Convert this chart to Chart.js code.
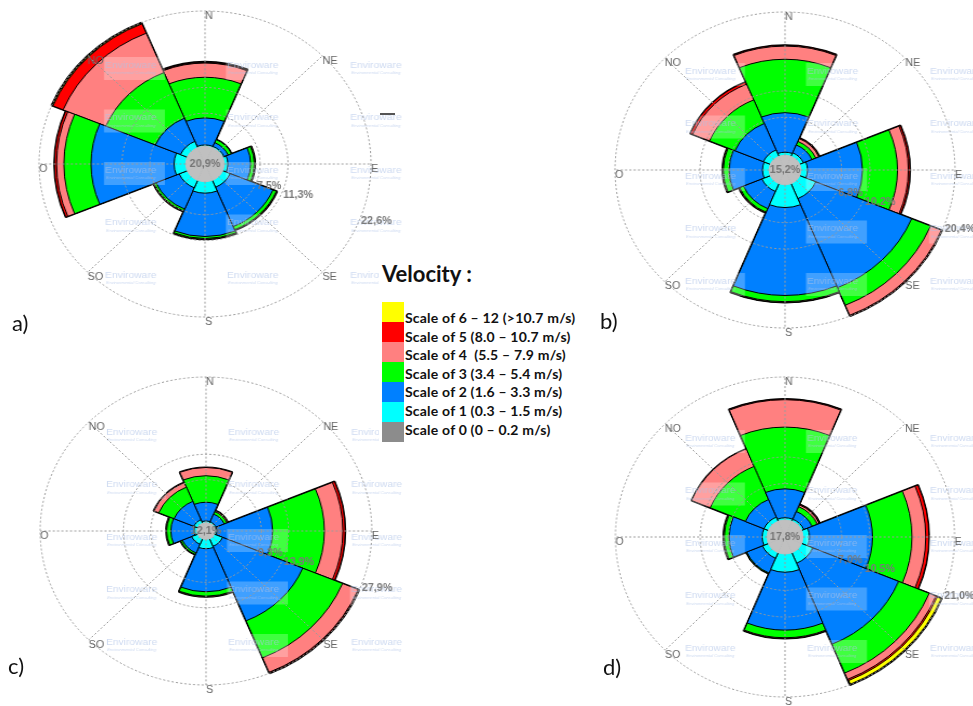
<!DOCTYPE html>
<html>
<head>
<meta charset="utf-8">
<script src="https://cdn.jsdelivr.net/npm/chart.js@4.4.1/dist/chart.umd.min.js"></script>
<style>
  html, body { margin: 0; padding: 0; background: #fff; }
  body { width: 973px; height: 706px; position: relative; overflow: hidden; }
  .rose { position: absolute; width: 380px; height: 380px; transform-origin: 190px 190px; }
  .tag { position: absolute; font: 22px Lato, sans-serif; line-height: 22px; color: #111; }
  #legend { position: absolute; left: 379px; top: 250px; width: 215px; height: 200px; background: #fff; z-index: 5; }
  #legend .ttl { position: absolute; left: 3px; top: 13px; font: bold 22px Lato, sans-serif; line-height: 22px; color: #111; }
  #legend .sw { position: absolute; left: 3px; width: 22px; height: 20px; }
  #legend .row { position: absolute; left: 26px; font: bold 14px Lato, sans-serif; line-height: 14px; letter-spacing: 0.2px; white-space: pre; color: #111; }
  .dash { position: absolute; left: 380px; top: 113px; width: 15px; height: 2px; background: #555; }
</style>
</head>
<body>
<div class="rose" id="boxA"><canvas id="roseA" width="380" height="380"></canvas></div>
<div class="rose" id="boxB"><canvas id="roseB" width="380" height="380"></canvas></div>
<div class="rose" id="boxC"><canvas id="roseC" width="380" height="380"></canvas></div>
<div class="rose" id="boxD"><canvas id="roseD" width="380" height="380"></canvas></div>
<div class="dash"></div>
<div class="tag" style="left:12px;top:312px">a)</div>
<div class="tag" style="left:600px;top:310px">b)</div>
<div class="tag" style="left:8px;top:655px">c)</div>
<div class="tag" style="left:603px;top:656px">d)</div>
<div id="legend"><div class="ttl">Velocity :</div></div>

<script>
const directions = ['N', 'NE', 'E', 'SE', 'S', 'SO', 'O', 'NO'];
const speedLabels = ['Scale of 6 – 12 (>10.7 m/s)', 'Scale of 5 (8.0 – 10.7 m/s)', 'Scale of 4  (5.5 – 7.9 m/s)',
  'Scale of 3 (3.4 – 5.4 m/s)', 'Scale of 2 (1.6 – 3.3 m/s)', 'Scale of 1 (0.3 – 1.5 m/s)', 'Scale of 0 (0 – 0.2 m/s)'];
const speedColors = ['#ffff00', '#ff0000', '#ff8080', '#00ff00', '#0080ff', '#00ffff', '#8c8c8c'];

// a)
const calmA = 20.9;
const ringsA = [7.5, 11.3, 22.6];
const scale1A = [0.2, 0.2, 0.5, 1.1, 1.7, 1.2, 1.6, 1.0];
const scale2A = [4.0, 0.6, 3.1, 6.3, 6.4, 3.4, 11.3, 3.7];
const scale3A = [6.0, 0.5, 0.5, 0.5, 0.3, 0.3, 3.7, 7.3];
const scale4A = [2.1, 0.0, 0.1, 0.1, 0.1, 0.1, 1.0, 6.3];
const scale5A = [0.1, 0.0, 0.0, 0.0, 0.0, 0.0, 0.3, 1.5];
const scale6A = [0.1, 0.0, 0.0, 0.0, 0.0, 0.0, 0.0, 0.2];

// b)
const calmB = 15.2;
const ringsB = [6.8, 10.2, 20.4];
const scale1B = [0.4, 0.5, 0.8, 2.1, 2.95, 1.1, 0.8, 0.9];
const scale2B = [5.1, 1.1, 6.6, 12.45, 11.35, 2.4, 4.0, 3.7];
const scale3B = [6.9, 0.5, 4.2, 2.45, 0.8, 0.5, 0.7, 3.3];
const scale4B = [1.7, 0.4, 1.3, 1.4, 0.1, 0.1, 0.1, 2.2];
const scale5B = [0.1, 0.1, 0.2, 0.1, 0.0, 0.0, 0.0, 0.3];
const scale6B = [0.0, 0.0, 0.0, 0.0, 0.0, 0.0, 0.0, 0.0];

// c)
const calmC = 12.1;
const ringsC = [9.3, 13.9, 27.9];
const scale1C = [0.3, 0.3, 0.3, 1.5, 1.7, 1.1, 0.5, 0.7];
const scale2C = [3.4, 1.5, 9.4, 14.6, 7.8, 1.7, 3.9, 3.6];
const scale3C = [4.8, 0.5, 8.7, 7.25, 0.8, 0.3, 0.7, 2.8];
const scale4C = [1.5, 0.2, 3.1, 2.85, 0.1, 0.05, 0.1, 0.9];
const scale5C = [0.0, 0.0, 0.4, 0.15, 0.0, 0.0, 0.0, 0.0];
const scale6C = [0.0, 0.0, 0.0, 0.05, 0.0, 0.0, 0.0, 0.0];

// d)
const calmD = 17.8;
const ringsD = [7.0, 10.5, 21.0];
const scale1D = [0.3, 0.3, 0.8, 1.5, 2.4, 0.8, 0.6, 0.6];
const scale2D = [3.8, 1.1, 7.8, 11.5, 7.6, 2.1, 4.1, 2.5];
const scale3D = [8.1, 0.7, 4.9, 4.1, 1.0, 0.1, 0.6, 4.7];
const scale4D = [3.6, 0.25, 1.7, 0.9, 0.1, 0.0, 0.1, 2.5];
const scale5D = [0.1, 0.1, 0.4, 0.2, 0.0, 0.0, 0.0, 0.0];
const scale6D = [0.0, 0.0, 0.0, 0.6, 0.0, 0.0, 0.0, 0.0];

// where each rose sits on the page (centre, radius in px, horizontal stretch)
const places = {
  A: { cx: 205, cy: 163.5, R: 153, sx: 1.085 },
  B: { cx: 785, cy: 169.5, R: 158, sx: 1.076 },
  C: { cx: 206, cy: 530.5, R: 154, sx: 1.077 },
  D: { cx: 785, cy: 537, R: 160, sx: 1.06 }
};

const fmt = v => v.toFixed(1).replace('.', ',') + '%';

function roseDecor(calm, rings, sx) {
  return {
    id: 'roseDecor',
    afterDatasetsDraw(chart) {
      // Enviroware watermark grid
      const s = chart.scales.r;
      const ctx = chart.ctx;
      ctx.save();
      [-100, 22, 145].forEach(dx => {
        [-99, -46.5, 6, 58.5, 111].forEach(dy => {
          const x = s.xCenter + dx / sx;
          const y = s.yCenter + dy;
          ctx.fillStyle = 'rgba(255,255,255,0.25)';
          ctx.fillRect(x - 1, y - 8, 61 / sx, 23);
          ctx.fillStyle = 'rgba(175,195,232,0.6)';
          ctx.font = '9.5px "Liberation Sans"';
          ctx.textAlign = 'left';
          ctx.textBaseline = 'middle';
          ctx.fillText('Enviroware', x, y);
          ctx.font = 'italic 4px "Liberation Sans"';
          ctx.fillText('Environmental Consulting', x + 1, y + 8);
        });
      });
      ctx.restore();
    },
    afterDraw(chart) {
      const s = chart.scales.r;
      const ctx = chart.ctx;
      const x0 = s.xCenter, y0 = s.yCenter, R = s.drawingArea;
      const rc = s.getDistanceFromCenterForValue(calm / 8);
      ctx.save();
      ctx.strokeStyle = '#9c9c9c';
      ctx.lineWidth = 1;
      ctx.setLineDash([2, 2]);
      directions.forEach((d, i) => {
        const a = i * Math.PI / 4;
        ctx.beginPath();
        ctx.moveTo(x0 + rc * Math.sin(a), y0 - rc * Math.cos(a));
        ctx.lineTo(x0 + R * Math.sin(a), y0 - R * Math.cos(a));
        ctx.stroke();
      });
      ctx.setLineDash([]);

      ctx.font = '10px "Liberation Sans"';
      ctx.fillStyle = '#666';
      ctx.textAlign = 'left';
      ctx.textBaseline = 'top';
      directions.forEach((d, i) => {
        const a = i * Math.PI / 4;
        ctx.fillText(d, x0 + R * Math.sin(a), y0 - R * Math.cos(a));
      });

      ctx.font = 'bold 10px "Liberation Sans"';
      ctx.fillStyle = '#7a7a7a';
      ctx.textBaseline = 'middle';
      const t = 20 * Math.PI / 180;
      rings.forEach(v => {
        const r = s.getDistanceFromCenterForValue(v);
        ctx.fillText(fmt(v), x0 + r * Math.cos(t), y0 + r * Math.sin(t) + 5);
      });

      ctx.textAlign = 'center';
      ctx.fillStyle = '#757575';
      ctx.fillText(fmt(calm), x0, y0);
      ctx.restore();
    }
  };
}

function makeRose(key, calm, rings, classes) {
  const p = places[key];
  const box = document.getElementById('box' + key);
  box.style.left = (p.cx - 190) + 'px';
  box.style.top = (p.cy - 190) + 'px';
  box.style.transform = 'scaleX(' + p.sx + ')';

  // petals start on the calm disk (calm spread over the 8 sectors)
  const base = calm / 8;
  const datasets = [{
    data: directions.map(() => base),
    backgroundColor: '#c0c0c0',
    borderColor: '#c0c0c0',
    borderWidth: 1
  }];
  const inner = speedColors.slice(0, 6).reverse();
  let run = directions.map(() => base);
  classes.forEach((vals, k) => {
    run = run.map((v, i) => v + vals[i]);
    datasets.push({
      data: run.slice(),
      backgroundColor: inner[k],
      borderColor: '#000',
      borderWidth: k === classes.length - 1 ? 2 : 1
    });
  });

  new Chart(document.getElementById('rose' + key), {
    type: 'polarArea',
    data: { labels: directions, datasets },
    options: {
      responsive: false,
      animation: false,
      events: [],
      layout: { padding: 190 - p.R },
      plugins: { legend: { display: false }, tooltip: { enabled: false } },
      scales: {
        r: {
          min: 0,
          max: rings[rings.length - 1],
          startAngle: -22.5,
          ticks: { display: false },
          afterBuildTicks: s => { s.ticks = [0, ...rings].map(v => ({ value: v })); },
          grid: { circular: true, color: '#9c9c9c', lineWidth: 1, z: 1 },
          border: { dash: [2, 2] },
          angleLines: { display: false },
          pointLabels: { display: false }
        }
      }
    },
    plugins: [roseDecor(calm, rings, p.sx)]
  });
}

makeRose('A', calmA, ringsA, [scale1A, scale2A, scale3A, scale4A, scale5A, scale6A]);
makeRose('B', calmB, ringsB, [scale1B, scale2B, scale3B, scale4B, scale5B, scale6B]);
makeRose('C', calmC, ringsC, [scale1C, scale2C, scale3C, scale4C, scale5C, scale6C]);
makeRose('D', calmD, ringsD, [scale1D, scale2D, scale3D, scale4D, scale5D, scale6D]);

// legend
const legend = document.getElementById('legend');
speedLabels.forEach((txt, k) => {
  const sw = document.createElement('div');
  sw.className = 'sw';
  sw.style.top = (51.7 + 20 * k) + 'px';
  sw.style.background = speedColors[k];
  legend.appendChild(sw);
  const row = document.createElement('div');
  row.className = 'row';
  row.style.top = (61 + 18.6 * k) + 'px';
  row.textContent = txt;
  legend.appendChild(row);
});
</script>
</body>
</html>
